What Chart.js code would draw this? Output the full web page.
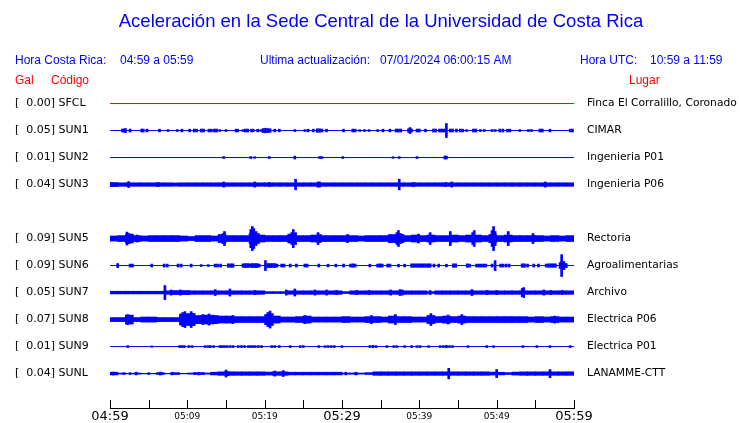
<!DOCTYPE html>
<html>
<head>
<meta charset="utf-8">
<script src="https://cdn.jsdelivr.net/npm/chart.js@4.4.1/dist/chart.umd.min.js"></script>
<style>
  html, body { margin: 0; padding: 0; background: #fff; }
</style>
</head>
<body>
<canvas id="sismo" width="740" height="423"></canvas>
<script>
// estaciones (orden de arriba hacia abajo); el hueco entre SUN3 y SUN5 es una fila vacia
var codes  = ['SFCL', 'SUN1', 'SUN2', 'SUN3', 'SUN5', 'SUN6', 'SUN7', 'SUN8', 'SUN9', 'SUNL'];
var peaks  = ['0.00', '0.05', '0.01', '0.04', '0.09', '0.09', '0.05', '0.07', '0.01', '0.04'];
var places = ['Finca El Corralillo, Coronado', 'CIMAR', 'Ingenieria P01', 'Ingenieria P06', 'Rectoria',
              'Agroalimentarias', 'Archivo', 'Electrica P06', 'Electrica P01', 'LANAMME-CTT'];
var slots  = [0, 1, 2, 3, 5, 6, 7, 8, 9, 10];

// minutos desde 04:59
var timeTicks = [0, 10, 20, 30, 40, 50, 60];

// envolvente de ruido por minuto (semiamplitud, mGal)
var band3 = [15,13,13,13,13,13,13,13,12,13,13,13,13,13,13,13,13,13,13,13,13,13,13,13,13,13,13,13,13,13,
             13,13,13,13,13,13,13,13,13,13,13,13,13,13,13,13,13,13,13,13,13,13,13,13,13,13,13,13,13,13];
var band5 = [19,22,33,22,19,22,22,22,22,19,15,22,22,19,30,22,22,22,37,26,22,22,22,33,22,22,26,22,22,22,
             22,22,19,22,22,22,30,30,22,26,22,26,22,22,26,22,26,26,22,30,22,26,22,22,22,22,19,22,19,22];
var band7 = [10,10,10,10,10,10,10,13,15,15,13,13,13,13,13,13,13,13,13,13,7,7,7,13,13,13,13,13,13,13,
             7,13,13,13,13,13,13,13,13,13,13,7,13,13,13,13,13,13,13,13,13,13,13,13,13,13,13,13,13,13];
var band8 = [15,15,33,15,19,19,15,15,15,41,44,30,33,30,26,26,22,22,22,22,37,26,19,19,22,26,19,19,19,19,
             22,19,19,22,22,19,26,22,22,19,19,30,22,26,22,26,22,22,22,22,22,22,22,22,19,22,19,22,19,19];
var bandL = [10,4,2,4,2,2,7,2,7,2,4,7,4,10,13,13,13,13,13,13,11,13,13,10,10,10,10,10,10,10,
             4,5,4,7,13,13,13,13,13,13,13,13,13,13,13,13,13,13,13,11,10,7,11,13,13,13,13,13,13,13];

// rafagas y picos [minuto, semiamplitud mGal]
var mk1 = [[1.6,11],[1.8,11],[2.0,15],[2.6,11],[4.1,11],[4.3,11],[4.8,10],[6.4,10],[7.5,7],[8.7,7],[9.3,10],
  [10.3,10],[10.9,11],[11.2,10],[11.8,11],[12.1,11],[12.8,10],[13.1,10],[13.5,11],[13.8,11],[14.2,7],[15,7],
  [16.3,10],[16.5,10],[17.2,7],[17.5,11],[17.8,11],[18.3,10],[18.5,10],[19.1,10],[19.5,7],[19.8,15],[20.1,17],
  [20.4,15],[20.7,13],[21.3,10],[21.9,10],[23.9,7],[25.2,7],[25.6,10],[26.3,10],[26.8,13],[27.1,13],[27.4,11],
  [28,10],[30.2,10],[31.4,11],[31.7,10],[32.3,7],[32.9,7],[33.5,7],[34.6,7],[35.3,10],[36.2,10],[37,11],
  [37.3,11],[37.6,11],[38.6,13],[38.8,22],[39,11],[39.7,11],[40,11],[40.8,10],[41.8,11],[42.1,11],[42.6,11],
  [42.9,11],[43.2,11],[43.5,52],[44,11],[44.3,11],[44.8,11],[45.3,11],[45.6,10],[46.1,7],[47,11],[47.3,11],
  [47.9,7],[48.4,7],[49.4,7],[49.8,7],[50.4,11],[50.8,11],[51.4,10],[51.7,10],[53,7],[54.1,7],[54.5,7],
  [55.6,11],[55.9,11],[56.9,10],[59.5,10],[59.8,11]];
var mk2 = [[14.7,7],[18.2,7],[18.7,6],[20.6,7],[23.9,11],[27.1,7],[27.4,7],[30.1,7],[36.6,6],[37.4,7],
  [39.7,7],[43.3,11],[43.5,11]];
var mk3 = [[0.2,15],[2.4,22],[6.25,15],[14.7,19],[18.7,19],[20.6,15],[24,39],[26.9,19],[27.1,19],[37.4,39],
  [39.3,15],[43.4,15],[44.2,19],[56.3,19]];
var mk5 = [[2.2,48],[2.5,37],[3.5,26],[14.6,37],[14.8,52],[18.2,67],[18.4,89],[18.6,74],[18.9,52],[19.2,37],
  [23.5,44],[23.7,67],[24,44],[26.9,44],[27.2,30],[30.7,30],[37.1,44],[37.3,59],[37.6,37],[39.9,33],[41.4,44],
  [44,52],[46.9,44],[47.1,59],[49.4,59],[49.6,89],[49.8,52],[51.5,52],[54.7,37]];
var mk6 = [[1,15],[2.6,11],[2.9,11],[5.4,11],[7,11],[7.4,11],[8.8,11],[9.2,11],[10.5,11],[11.8,7],[12.7,7],
  [13.6,11],[13.9,11],[14.3,11],[15.3,13],[15.6,13],[15.9,13],[17.2,13],[17.5,15],[17.8,15],[18.1,13],[18.4,15],
  [18.7,15],[19,15],[19.3,11],[20.1,37],[20.4,15],[20.7,15],[21,15],[21.3,15],[21.6,11],[22.2,11],[22.5,11],
  [23.3,11],[24.1,11],[25.2,11],[25.5,11],[27,11],[28.2,10],[29.2,10],[30.2,11],[31.1,11],[31.4,13],[31.7,11],
  [33.6,10],[34.6,11],[34.9,13],[35.2,11],[35.9,11],[36.2,11],[37.3,10],[38.1,10],[39,13],[39.3,13],[39.6,13],
  [39.9,13],[40.2,13],[40.5,13],[40.8,13],[41.1,13],[41.4,13],[41.9,11],[42.5,11],[43.5,10],[44.4,13],[44.7,13],
  [46.2,13],[46.5,11],[47.4,11],[47.7,11],[48,11],[48.3,11],[48.6,11],[49.4,11],[49.8,37],[50.5,11],[50.8,11],
  [51.2,11],[51.6,11],[53.3,13],[53.6,13],[54,11],[54.8,11],[55.4,11],[56.4,11],[56.7,13],[57,13],[57.3,13],
  [57.6,13],[58.2,22],[58.4,81],[58.7,30],[59,15]];
var mk7 = [[7.1,52],[7.9,19],[9.1,19],[10.2,15],[13.6,22],[15.5,26],[18.7,15],[22.8,19],[23.9,26],[26.5,19],
  [28,19],[29.3,15],[31.9,15],[33.5,15],[36.3,19],[37.5,22],[37.8,19],[41.4,15],[46.8,22],[48.7,15],[50,15],
  [53.3,30],[53.5,37],[56.1,19],[57,15],[58.5,15]];
var mk8 = [[2.3,37],[9.4,52],[9.7,59],[10.2,44],[10.5,59],[10.8,44],[12,37],[12.8,41],[13.3,33],[15.9,30],
  [20.4,52],[20.7,63],[21,44],[25.2,30],[33.8,30],[36.9,37],[41.5,44],[43.7,33],[45.5,37],[57.5,26]];
var mk9 = [[2.3,7],[5.4,5],[9,7],[9.3,7],[9.6,7],[10.2,7],[10.6,7],[12.3,7],[12.7,7],[13,7],[13.4,7],[14.2,7],
  [14.5,7],[14.8,7],[15.1,7],[15.5,7],[15.9,7],[16.6,7],[17,7],[17.4,7],[17.9,7],[18.2,7],[18.5,7],[18.8,7],
  [19.2,7],[19.6,7],[20.9,7],[21.3,7],[21.9,7],[23.3,7],[24.6,7],[25,7],[27,7],[27.8,7],[28.2,7],[28.6,7],
  [29,7],[30,7],[33.6,7],[34,9],[34.4,7],[35.8,7],[36.7,7],[37.1,7],[38.1,7],[39,7],[39.7,7],[40.1,7],
  [41.2,7],[42.7,7],[43.1,7],[43.5,9],[43.9,7],[44.3,7],[46.3,7],[48.7,7],[49.6,7],[53.4,7],[55.2,7],
  [56.9,7],[59.5,7]];
var mkL = [[0.4,11],[1.8,7],[2.6,7],[3.4,10],[5,7],[6.5,11],[8,10],[10.9,7],[11.5,10],[12.1,7],[15,26],
  [15.3,15],[21.3,19],[22.4,22],[30.5,10],[31.8,10],[43.8,39],[50,30],[56.9,30]];

var bands = [[], [], [], band3, band5, [], band7, band8, [], bandL];
var marks = [[], mk1, mk2, mk3, mk5, mk6, mk7, mk8, mk9, mkL];

var BLUE = '#0000ff';
var RED = '#ff0000';
var ROW = 200;          // separacion entre trazas (mGal)
var Y_MAX = 204, Y_MIN = -2255;

function hhmm(m) {
  var t = 4 * 60 + 59 + m;
  var h = Math.floor(t / 60), mm = t % 60;
  return (h < 10 ? '0' : '') + h + ':' + (mm < 10 ? '0' : '') + mm;
}

var datasets = [];
codes.forEach(function (c, k) {
  var base = -ROW * slots[k];
  var col = k === 0 ? RED : BLUE;
  datasets.push({
    type: 'line', data: [{x: 0, y: base}, {x: 60, y: base}],
    borderColor: col, borderWidth: 1, pointRadius: 0
  });
  if (bands[k].length) {
    datasets.push({
      type: 'bar', backgroundColor: col, barThickness: 8,
      data: bands[k].map(function (a, i) { return {x: i + 0.5, y: [base - a, base + a]}; })
    });
  }
  if (marks[k].length) {
    datasets.push({
      type: 'bar', backgroundColor: col, barThickness: 2,
      data: marks[k].map(function (p) { return {x: p[0], y: [base - p[1], base + p[1]]}; })
    });
  }
});

var header = {
  id: 'header',
  afterDraw: function (chart) {
    var ctx = chart.ctx;
    ctx.save();
    ctx.textBaseline = 'middle';
    ctx.fillStyle = BLUE;
    ctx.textAlign = 'center';
    ctx.font = '18.5px "Liberation Sans", Arial, sans-serif';
    ctx.fillText('Aceleración en la Sede Central de la Universidad de Costa Rica', 381, 22);
    ctx.textAlign = 'left';
    ctx.font = '12px "Liberation Sans", Arial, sans-serif';
    ctx.fillText('Hora Costa Rica:', 15, 61);
    ctx.fillText('04:59 a 05:59', 120, 61);
    ctx.fillText('Ultima actualización:', 260, 61);
    ctx.fillText('07/01/2024 06:00:15 AM', 380, 61);
    ctx.fillText('Hora UTC:', 580, 61);
    ctx.fillText('10:59 a 11:59', 650, 61);
    ctx.fillStyle = RED;
    ctx.fillText('Gal', 15, 81);
    ctx.fillText('Código', 51, 81);
    ctx.fillText('Lugar', 629, 81);

    // marcas de tiempo hacia arriba desde el eje
    var xs = chart.scales.x;
    ctx.strokeStyle = '#000';
    ctx.lineWidth = 1;
    xs.ticks.forEach(function (t) {
      var px = Math.round(xs.getPixelForValue(t.value)) + 0.5;
      ctx.beginPath();
      ctx.moveTo(px, xs.top - 8);
      ctx.lineTo(px, xs.top);
      ctx.stroke();
    });
    ctx.restore();
  }
};

function rowTicks(scale) {
  scale.ticks = slots.map(function (s) { return {value: -ROW * s}; });
}

function fixSide(w) {
  return function (s) {
    s.width = w;
    s.paddingTop = 0;
    s.paddingBottom = 0;
  };
}

new Chart(document.getElementById('sismo').getContext('2d'), {
  type: 'bar',
  data: {datasets: datasets},
  options: {
    responsive: false,
    animation: false,
    layout: {padding: {left: 15, top: 76, right: 0, bottom: 0}},
    plugins: {legend: {display: false}, tooltip: {enabled: false}},
    scales: {
      x: {
        type: 'linear', min: 0, max: 60, offset: false, stacked: true,
        afterFit: function (s) { s.height = 15; s.paddingLeft = 0; s.paddingRight = 0; },
        grid: {display: false, drawTicks: false},
        border: {display: true, color: '#000', width: 1},
        ticks: {
          stepSize: 5, autoSkip: false, maxRotation: 0, padding: 1, color: '#000',
          font: function (c) {
            var big = c.tick && c.tick.value % 30 === 0;
            return {family: 'DejaVu Sans', size: big ? 13 : 9, lineHeight: big ? 1.2 : 1.6};
          },
          callback: function (v) { return timeTicks.indexOf(v) >= 0 ? hhmm(v) : ''; }
        }
      },
      y: {
        type: 'linear', position: 'left', min: Y_MIN, max: Y_MAX, stacked: false,
        afterFit: fixSide(95),
        afterBuildTicks: rowTicks,
        grid: {display: false, drawTicks: false},
        border: {display: false},
        ticks: {
          autoSkip: false, crossAlign: 'far', padding: 0, color: '#000',
          font: {family: 'DejaVu Sans', size: 11},
          callback: function (v, i) { return '[  ' + peaks[i] + '] ' + codes[i]; }
        }
      },
      y2: {
        type: 'linear', position: 'right', min: Y_MIN, max: Y_MAX,
        afterFit: fixSide(166),
        afterBuildTicks: rowTicks,
        grid: {display: false, drawTicks: false},
        border: {display: false},
        ticks: {
          autoSkip: false, crossAlign: 'near', padding: 13, color: '#000',
          font: {family: 'DejaVu Sans', size: 10.7},
          callback: function (v, i) { return places[i]; }
        }
      }
    }
  },
  plugins: [header]
});
</script>
</body>
</html>
